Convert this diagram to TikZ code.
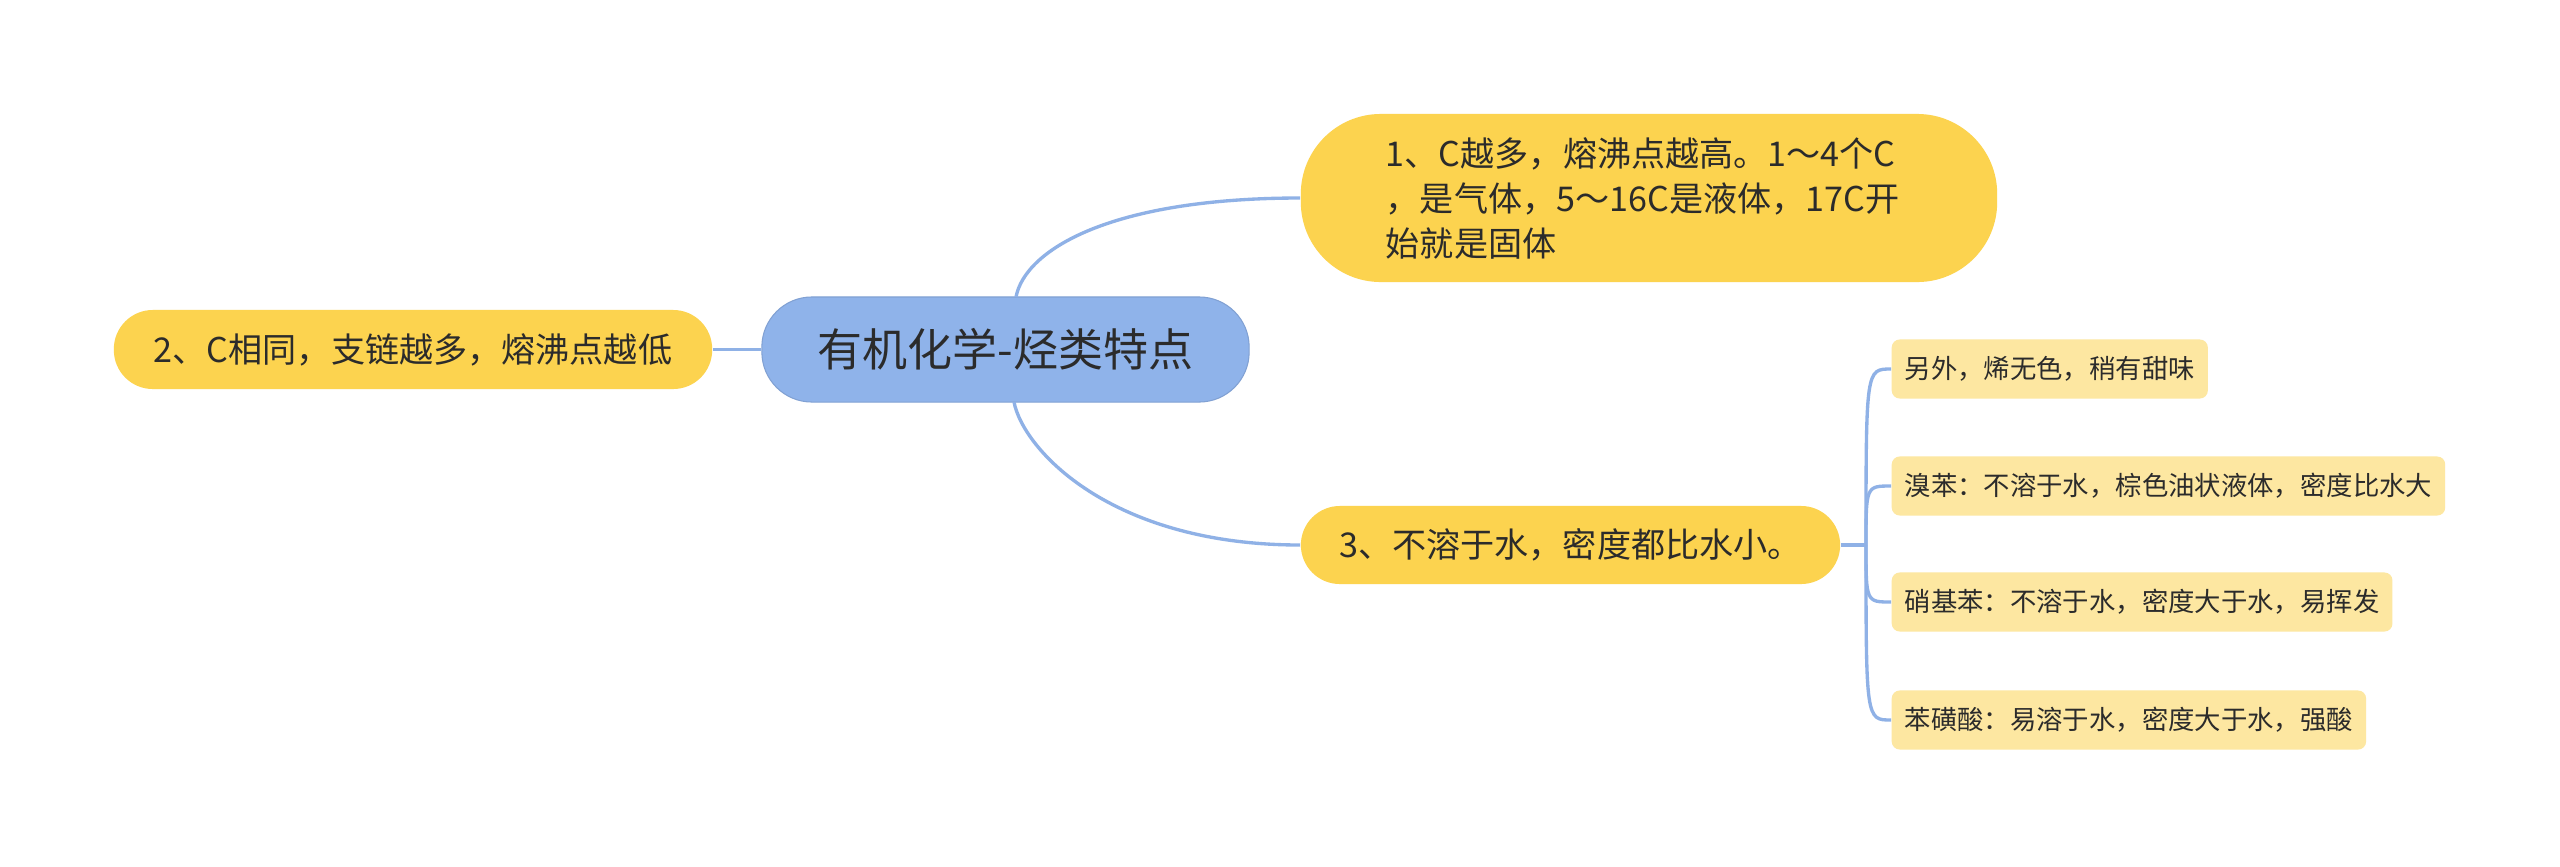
\documentclass[tikz,border=0pt]{standalone}
\usepackage{fontspec}
\newfontfamily\cjk{Noto Sans CJK SC}
\definecolor{rootblue}{HTML}{8FB3EA}
\definecolor{mainyellow}{HTML}{FCD34F}
\definecolor{leafyellow}{HTML}{FDE7A1}
\definecolor{linkblue}{HTML}{8FB1E6}
\definecolor{textdark}{HTML}{2B2B2B}
\tikzset{
  rootbox/.style={fill=rootblue, draw=rootblue!90!black, line width=0.3pt, rounded corners=0.5cm, minimum width=4.87cm, minimum height=1.05cm, inner sep=0pt, text=textdark, font=\cjk\fontsize{12.8pt}{15pt}\selectfont},
  mainbox/.style={fill=mainyellow, inner sep=0pt, text=textdark, font=\cjk\fontsize{9.7pt}{12.8pt}\selectfont},
  leafbox/.style={fill=leafyellow, rounded corners=0.08cm, anchor=west, inner xsep=0.13cm, inner ysep=0pt, minimum height=0.59cm, text=textdark, font=\cjk\fontsize{7.5pt}{9pt}\selectfont},
  conn/.style={draw=linkblue, line width=0.95pt}
}
\begin{document}
\begin{tikzpicture}[x=0.01cm, y=-0.01cm]
\useasboundingbox[fill=white] (0,0) rectangle (2560,866);
% nodes
\node[rootbox] (r) at (1005.5,349.5) {有机化学-烃类特点};
\node[mainbox, minimum width=6.96cm, minimum height=1.68cm, rounded corners=0.8cm, text width=5.26cm, align=left] (n1) at (1649,198) {1、C越多，熔沸点越高。1～4个C\\，是气体，5～16C是液体，17C开\\始就是固体};
\node[mainbox, minimum width=5.98cm, minimum height=0.79cm, rounded corners=0.39cm] (n2) at (413,349.5) {2、C相同，支链越多，熔沸点越低};
\node[mainbox, minimum width=5.39cm, minimum height=0.78cm, rounded corners=0.39cm] (n3) at (1570.5,545) {3、不溶于水，密度都比水小。};
\node[leafbox] (la) at (1891,369) {另外，烯无色，稍有甜味};
\node[leafbox] (lb) at (1891,486) {溴苯：不溶于水，棕色油状液体，密度比水大};
\node[leafbox] (lc) at (1891,602) {硝基苯：不溶于水，密度大于水，易挥发};
\node[leafbox] (ld) at (1891,720) {苯磺酸：易溶于水，密度大于水，强酸};
% connectors
\coordinate (rt) at (1016,297);
\coordinate (rb) at (1014,402);
\coordinate (j) at (1866,545);
\draw[conn] (r.west) -- (n2.east);
\draw[conn] (rt) .. controls (1025,250) and (1110,198) .. (n1.west);
\draw[conn] (rb) .. controls (1023,449) and (1110,545) .. (n3.west);
\draw[conn] (n3.east) -- (j);
\foreach \l in {la,lb,lc,ld}{
  \draw[conn] (j) .. controls (j |- \l.west) .. (\l.west);
}
\end{tikzpicture}
\end{document}
